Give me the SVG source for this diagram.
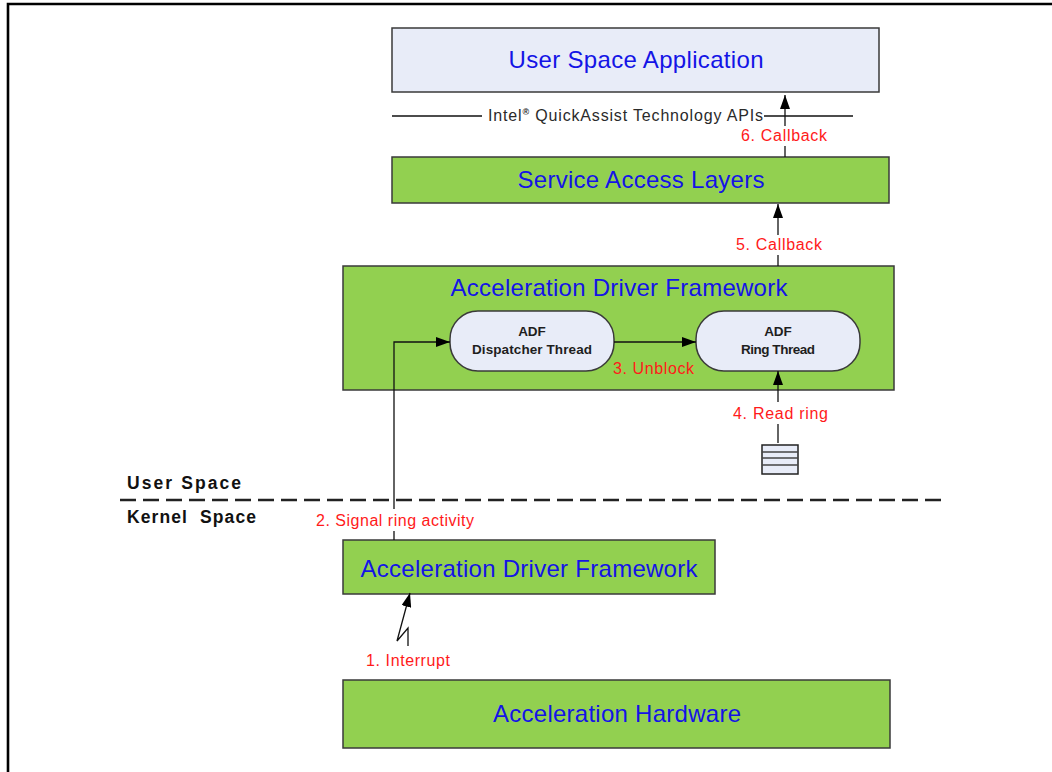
<svg xmlns="http://www.w3.org/2000/svg" width="1052" height="772" viewBox="0 0 1052 772">
<style>
.box{fill:#92d050;stroke:#3a3a3a;stroke-width:1.5}
.lt{fill:#e8ecf8;stroke:#3a3a3a;stroke-width:1.5}
.t{font-family:"Liberation Sans",Arial,sans-serif;font-size:24px;fill:#1414e6;text-anchor:middle}
.r{font-family:"Liberation Sans",Arial,sans-serif;font-size:16px;fill:#ff1a1a}
.b{font-family:"Liberation Sans",Arial,sans-serif;font-size:13.5px;font-weight:bold;fill:#1e1e1e;text-anchor:middle}
.k{font-family:"Liberation Sans",Arial,sans-serif;font-size:17.5px;font-weight:bold;fill:#111}
.ln{stroke:#111;stroke-width:1.3;fill:none}
</style>
<defs>
<marker id="ah" viewBox="0 0 14 10" refX="14" refY="5" markerWidth="14" markerHeight="10" markerUnits="userSpaceOnUse" orient="auto">
<path d="M0,0 L14,5 L0,10 Z" fill="#000"/>
</marker>
</defs>
<rect x="0" y="0" width="1052" height="772" fill="#fff"/>
<path d="M8,772 L8,4 L1052,4" fill="none" stroke="#000" stroke-width="2.6"/>

<g id="user-app">
<rect class="lt" x="392" y="28" width="487" height="64"/>
<text class="t" x="636" y="68" textLength="255">User Space Application</text>
</g>

<g id="sal">
<rect class="box" x="392" y="157" width="497" height="46"/>
<text class="t" x="641" y="188" textLength="247">Service Access Layers</text>
</g>

<g id="adf-user">
<rect class="box" x="343" y="266" width="551" height="124"/>
<text class="t" x="619" y="296" textLength="337">Acceleration Driver Framework</text>
</g>

<g id="dispatcher">
<rect class="lt" x="450" y="311" width="164" height="60" rx="28" ry="28"/>
<text class="b" x="532" y="336">ADF</text>
<text class="b" x="532" y="354" textLength="120">Dispatcher Thread</text>
</g>

<g id="ring-thread">
<rect class="lt" x="696" y="311" width="164" height="60" rx="28" ry="28"/>
<text class="b" x="778" y="336">ADF</text>
<text class="b" x="778" y="354" textLength="74">Ring Thread</text>
</g>

<g id="ring">
<rect x="762" y="445" width="36" height="29" fill="#e8ecf8" stroke="#222" stroke-width="1.5"/>
<line x1="762" y1="452" x2="798" y2="452" stroke="#444" stroke-width="1.5"/>
<line x1="762" y1="458" x2="798" y2="458" stroke="#444" stroke-width="1.5"/>
<line x1="762" y1="465" x2="798" y2="465" stroke="#444" stroke-width="1.5"/>
</g>

<g id="adf-kernel">
<rect class="box" x="343" y="540" width="372" height="54"/>
<text class="t" x="529" y="577" textLength="337">Acceleration Driver Framework</text>
</g>

<g id="hardware">
<rect class="box" x="343" y="680" width="547" height="68"/>
<text class="t" x="617" y="722" textLength="248">Acceleration Hardware</text>
</g>

<g id="connectors">
<line class="ln" x1="392" y1="116" x2="482" y2="116"/>
<line class="ln" x1="764" y1="116" x2="853" y2="116"/>
<line class="ln" x1="785" y1="157" x2="785" y2="95" marker-end="url(#ah)"/>
<line class="ln" x1="778" y1="266" x2="778" y2="204" marker-end="url(#ah)"/>
<line class="ln" x1="614" y1="342" x2="696" y2="342" marker-end="url(#ah)"/>
<line class="ln" x1="778" y1="443" x2="778" y2="371" marker-end="url(#ah)"/>
<polyline class="ln" points="394,540 394,342 450,342" marker-end="url(#ah)"/>
<polyline class="ln" points="408,646 408,628 397,641 410,593" marker-end="url(#ah)"/>
<line x1="120" y1="500" x2="944" y2="500" stroke="#222" stroke-width="2.4" stroke-dasharray="16,7"/>
</g>

<g id="labels">
<rect x="738" y="126" width="92" height="20" fill="#fff"/>
<text class="r" x="741" y="141" textLength="86">6. Callback</text>
<rect x="733" y="235" width="92" height="20" fill="#fff"/>
<text class="r" x="736" y="250" textLength="86">5. Callback</text>
<text class="r" x="613" y="374" textLength="81">3. Unblock</text>
<rect x="730" y="402" width="101" height="22" fill="#fff"/>
<text class="r" x="733" y="419" textLength="95">4. Read ring</text>
<rect x="312" y="509" width="166" height="22" fill="#fff"/>
<text class="r" x="316" y="526" textLength="158">2. Signal ring activity</text>
<text class="r" x="366" y="666" textLength="84">1. Interrupt</text>
<text x="488" y="121" font-family="'Liberation Sans',Arial,sans-serif" font-size="16" fill="#2a2a2a" textLength="275">Intel<tspan font-size="9" font-weight="bold" dy="-6">®</tspan><tspan dy="6"> QuickAssist Technology APIs</tspan></text>
<text class="k" x="127" y="489" textLength="114">User Space</text>
<text class="k" x="127" y="523" textLength="129" xml:space="preserve">Kernel  Space</text>
</g>
</svg>
